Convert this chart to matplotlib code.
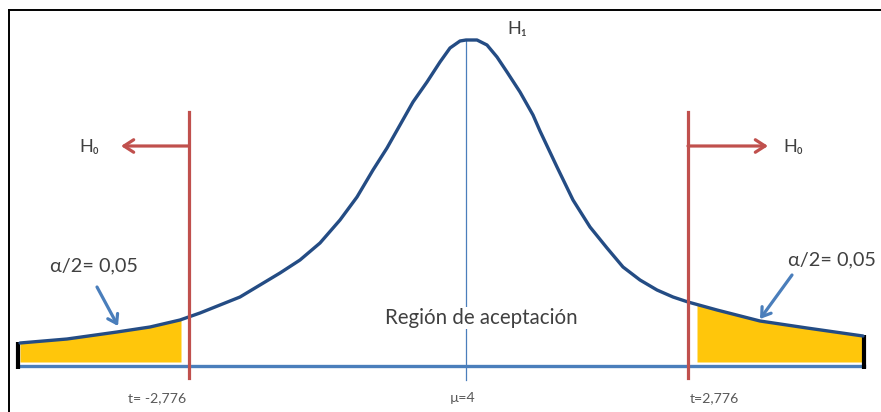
import numpy as np
import matplotlib
matplotlib.use("Agg")
import matplotlib.pyplot as plt

# ========== [DATA] ==========
# horizontal position relative to mu, height above the baseline
curve_x = [-446, -399, -349, -316, -286, -266, -246, -226, -206, -186, -166, -146, -126,
           -109, -93, -79, -66, -53, -39, -26, -16, -6, 0, 11, 21, 31, 41, 54, 67, 74,
           91, 107, 124, 141, 157, 174, 191, 207, 222, 251, 294, 341, 397]
curve_y = [23, 27, 34, 39, 46, 53, 61, 69, 81, 93, 106, 123, 146,
           169, 196, 218, 241, 264, 284, 304, 318, 325, 326, 326, 321, 309, 294, 274, 251, 235,
           199, 166, 139, 118, 99, 86, 76, 69, 64, 56, 45, 38, 30]

crit_left = -277
crit_right = 222
tail_left = (-446, -285)     # yellow area, left tail
tail_right = (231, 397)      # yellow area, right tail

tick_pos = [-309, -3, 248]
tick_labels = ["t= -2,776", "µ=4", "t=2,776"]

alpha_label = "α/2= 0,05"
h0_label = "H₀"
h1_label = "H₁"
region_label = "Región de aceptación"

# ========== [FIGURE] ==========
fams = ["Lato", "DejaVu Sans"]
dark_blue = "#244C84"
light_blue = "#4A7EBB"
red = "#C0504D"
yellow = "#FFC60B"
txt = "#404040"

fig = plt.figure(figsize=(8.81, 4.12), dpi=100)
ax = fig.add_axes([0, 0, 1, 1])
ax.set_xlim(-466, 415)
ax.set_ylim(-46, 366)
ax.axis("off")

# frame (top + left)
ax.plot([-457, 415], [356, 356], color="black", lw=1.4, clip_on=False)
ax.plot([-457, -457], [356, -46], color="black", lw=1.4, clip_on=False)

# yellow tails
cx = np.array(curve_x, dtype=float)
cy = np.array(curve_y, dtype=float)
for a, b in [tail_left, tail_right]:
    xs = np.linspace(a, b, 100)
    ax.fill_between(xs, 4, np.interp(xs, cx, cy), color=yellow, lw=0, zorder=2)

# baseline and end caps
ax.plot([-448, 398], [0, 0], color=light_blue, lw=2.4, zorder=3)
ax.plot([-448, -448], [-3, cy[0] + 1], color="black", lw=3, zorder=4, solid_capstyle="butt")
ax.plot([398, 398], [-3, cy[-1] + 1], color="black", lw=3, zorder=4, solid_capstyle="butt")

# mean line
ax.plot([0, 0], [-14, cy[curve_x.index(0)]], color=light_blue, lw=0.9, zorder=2)

# curve
ax.plot(cx, cy, color=dark_blue, lw=2.4, zorder=5, solid_capstyle="round",
        solid_joinstyle="round")

# critical values
for xc in [crit_left, crit_right]:
    ax.plot([xc, xc], [-12, 254], color=red, lw=2.3, zorder=6)

# H0 arrows
ax.annotate("", xy=(-345, 220), xytext=(crit_left, 220),
            arrowprops=dict(arrowstyle="->,head_length=0.7,head_width=0.45", color=red, lw=2.3,
                            shrinkA=0, shrinkB=0), zorder=6)
ax.annotate("", xy=(302, 220), xytext=(crit_right, 220),
            arrowprops=dict(arrowstyle="->,head_length=0.7,head_width=0.45", color=red, lw=2.3,
                            shrinkA=0, shrinkB=0), zorder=6)

# alpha arrows
ax.annotate("", xy=(-348, 40), xytext=(-369, 79),
            arrowprops=dict(arrowstyle="->,head_length=0.6,head_width=0.4", color=light_blue, lw=2.3,
                            shrinkA=0, shrinkB=0), zorder=7)
ax.annotate("", xy=(294, 47), xytext=(326, 91),
            arrowprops=dict(arrowstyle="->,head_length=0.6,head_width=0.4", color=light_blue, lw=2.3,
                            shrinkA=0, shrinkB=0), zorder=7)

# texts
ax.text(-377, 219, h0_label, fontsize=13, color=txt, family=fams, ha="center", va="center")
ax.text(327, 219, h0_label, fontsize=13, color=txt, family=fams, ha="center", va="center")
ax.text(51, 337, h1_label, fontsize=13, color=txt, family=fams, ha="center", va="center")
ax.text(-372, 100, alpha_label, fontsize=14.3, color=txt, family=fams, ha="center", va="center")
ax.text(366, 106, alpha_label, fontsize=14.3, color=txt, family=fams, ha="center", va="center")
ax.text(15, 48, region_label, fontsize=14.8, color=txt, family=fams, ha="center", va="center",
        bbox=dict(facecolor="white", edgecolor="none", pad=1), zorder=4)

for xp, lab in zip(tick_pos, tick_labels):
    ax.text(xp, -32, lab, fontsize=10.2, color="#595959", family=fams, ha="center", va="center")

fig.savefig("out.png", dpi=100)
